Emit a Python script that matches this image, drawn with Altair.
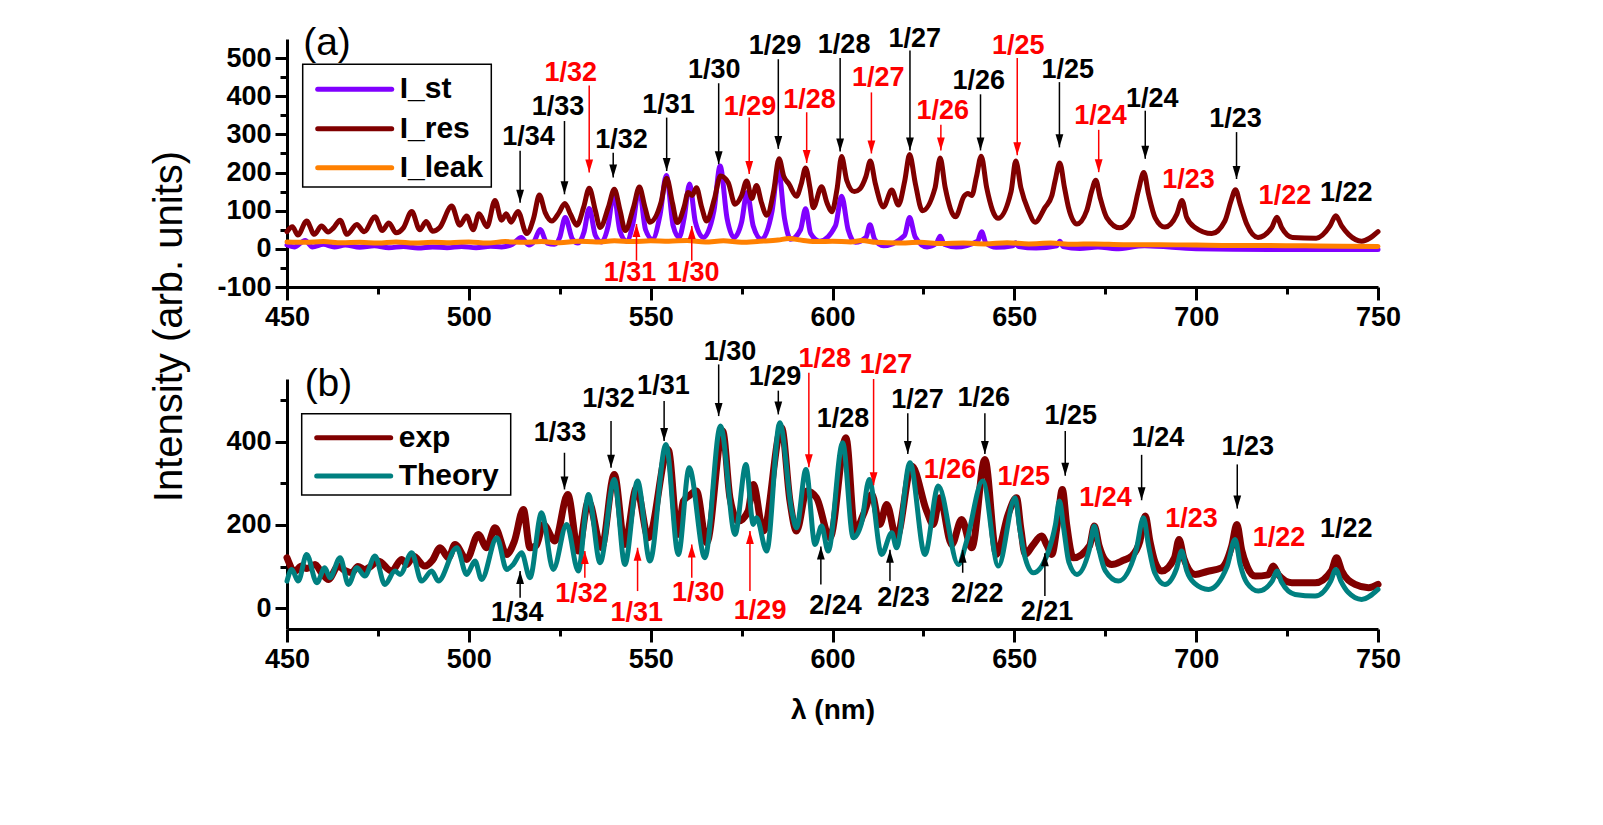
import altair as alt
import pandas as pd

FONT = "Liberation Sans"

# ---------------- panel (a) series ----------------
ist_nm = [450, 452, 455, 457, 460, 463, 466, 470, 474, 478, 482, 486, 490, 494, 498, 502, 506, 509, 512, 514.4, 516.5,
          518, 519.6, 521.5, 523.5, 525, 526.5, 528.5, 530, 531.7, 533.1, 534.8, 536.5, 538.3, 539.8, 541.6, 543.4,
          545.2, 546.8, 548.6, 550.5, 552.6, 554.3, 556.2, 557.8, 559.2, 560.7, 562.3, 564.5, 567.4, 569.1, 571,
          572.9, 575, 576.5, 578.2, 580.5, 583.4, 585.1, 586.8, 588.5, 591.2, 592.6, 594, 596.5, 600.8, 602.5, 604.3,
          606.3, 609.2, 610.3, 611.6, 614, 619.8, 621.2, 622.7, 626, 628.6, 629.6, 630.7, 634, 639.9, 641, 642.2,
          645, 649.6, 650.3, 651.2, 656, 661.7, 662.5, 663.4, 668, 673, 678, 685.8, 700, 720, 750]
ist_val = [10, 5, 22, 5, 12, 5, 10, 4, 8, 3, 6, 2, 5, 3, 6, 3, 7, 5, 12, 30, 10,
           20, 51, 15, 12, 30, 82, 25, 15, 45, 106, 35, 18, 60, 145, 45, 20,
           70, 158, 50, 25, 90, 192, 60, 30, 80, 170, 70, 30, 100, 217, 80,
           30, 70, 148, 60, 25, 100, 210, 80, 25, 50, 105, 40, 20, 60, 138, 50,
           17, 30, 63, 25, 8, 35, 82, 32, 5, 15, 33, 12, 5, 20, 45, 15,
           4, 8, 16, 6, 2, 8, 20, 6, 1, 5, 0, 8, 0, -2, -2]

ires_nm = [450, 451.5, 453, 455.4, 457.5, 459.5, 461.3, 462.8, 464.6, 466.5, 469.2, 471.2, 474.2, 476.2, 478, 480,
           482, 484.3, 486.5, 488.3, 490, 492, 495.3, 497.5, 499.4, 501.2, 502.8, 505, 507.2, 509, 510.3, 511.6,
           513.5, 515.9, 517.8, 519.4, 521, 522.8, 524.8, 526.4, 528, 529.7, 531.6, 533.1, 534.8, 536.1, 538.4,
           540, 541.6, 543, 545.3, 546.9, 548.4, 549.8, 552.8, 554.4, 556, 557.3, 559.2, 560.3, 561.4, 562.6, 564,
           565.4, 567.5, 569.2, 571.3, 573.2, 575, 576.4, 577.8, 579.1, 580.5, 581.9, 583.8, 585.3, 586.6, 588,
           590.1, 591.4, 592.6, 593.8, 594.7, 597, 598.5, 599.8, 601.3, 602.5, 603.9, 606, 607.5, 609.2, 610.4,
           611.8, 614, 616.3, 618.1, 619.9, 621.2, 622.8, 624.7, 628.2, 629.6, 631, 633.8, 636.2, 637.2, 638.3,
           639.6, 640.9, 642.4, 645.5, 649.1, 650.4, 651.8, 653.9, 655.7, 658.4, 660.3, 661.2, 662.5, 663.8, 664.9,
           667.2, 669.9, 671.3, 672.4, 673.6, 675.4, 679, 682.3, 684.1, 685.6, 686.9, 688.7, 691.4, 694.7, 696.1,
           697.4, 699.7, 704.3, 707.9, 709.6, 710.8, 712.1, 713.9, 717, 720.8, 722.2, 723.5, 726.5, 733, 736.8,
           738.4, 740, 741.9, 745.5, 750]
ires_val = [45, 58, 36, 73, 38, 60, 44, 55, 75, 38, 64, 45, 84, 48, 68, 42,
            55, 98, 50, 72, 46, 56, 112, 62, 86, 50, 92, 58, 127, 75, 92, 70,
            98, 40, 80, 141, 95, 73, 95, 119, 90, 62, 110, 159, 100, 56, 110,
            156, 100, 48, 110, 162, 110, 70, 120, 185, 120, 69, 110, 148, 140, 160, 110,
            73, 130, 191, 174, 117, 140, 178, 132, 166, 120, 88, 150, 236, 190, 170,
            138, 170, 212, 160, 108, 163, 120, 97, 160, 242, 180, 150, 157, 190, 230,
            170, 110, 154, 115, 180, 247, 170, 100, 160, 238, 160, 84, 138, 145, 140,
            190, 243, 160, 80, 150, 230, 160, 100, 70, 108, 139, 178, 225, 160, 108,
            65, 100, 152, 180, 134, 82, 55, 82, 152, 200, 143, 82, 57, 91, 127,
            82, 56, 40, 73, 126, 155, 117, 65, 30, 56, 83, 56, 30, 28, 60,
            87, 60, 38, 20, 45]

ileak_nm = [450, 455, 460, 465, 470, 475, 480, 485, 490, 495, 500, 505, 510, 515, 520, 525, 530, 535, 540, 545,
            550, 555, 560, 565, 570, 575, 580, 585, 588, 592, 596, 600, 605, 608, 612, 618, 624, 630, 636, 642,
            648, 654, 660, 666, 672, 680, 690, 700, 710, 720, 730, 740, 750]
ileak_val = [18, 17, 19, 16, 17, 15, 18, 15, 17, 16, 18, 15, 19, 17, 19, 16, 20, 18, 21, 19,
             21, 20, 22, 18, 21, 17, 20, 23, 27, 22, 19, 20, 18, 22, 17, 15, 17, 14, 15, 13,
             16, 13, 15, 12, 13, 11, 11, 10, 9, 9, 8, 7, 6]

# ---------------- panel (b) series ----------------
exp_nm = [450, 452.2, 454, 455.5, 457.7, 459.5, 461.4, 464.1, 466, 467.8, 469.5, 471.4, 473, 475.1, 478.8, 481.5,
          483, 484.7, 487.9, 490, 492.1, 494.4, 496.2, 499.4, 502.6, 504.9, 507.2, 510.4, 512.5, 515, 516.8, 518.5,
          520.5, 523.7, 527.2, 530.1, 532.9, 536.5, 540, 542.9, 546.1, 549.4, 554.8, 557.5, 559, 560.6, 562.6,
          565.4, 569.8, 571.8, 574.1, 576.8, 578.2, 581, 586, 588.3, 590.1, 592.9, 595.6, 599.3, 603.7, 606.2,
          608.5, 610.8, 613, 614.9, 617.6, 621.8, 625.9, 627.7, 629.5, 632.8, 635.5, 638.3, 641.9, 645.1, 648.3,
          650.6, 651.8, 653, 655, 657.5, 659, 660.3, 661.8, 663.2, 664.4, 666.2, 670.7, 672, 673.3, 675, 676.8,
          680, 682.3, 684.5, 686, 687.3, 688.7, 690.5, 694, 695.3, 696.6, 699.7, 703, 707, 709.8, 711.2, 712.5,
          714, 716.2, 719.8, 721.2, 722.6, 726.3, 732.7, 737.2, 738.6, 740, 743.7, 747.4, 750]
exp_val = [121, 89, 101, 95, 105, 85, 69, 101, 90, 85, 100, 93, 100, 113, 89, 117,
           105, 125, 101, 115, 145, 121, 153, 117, 177, 145, 193, 129, 160, 237, 145, 150,
           201, 161, 273, 137, 257, 145, 321, 153, 289, 169, 381, 177, 257, 270, 281,
           157, 425, 265, 209, 233, 297, 185, 433, 257, 185, 281, 265, 169, 409, 185,
           225, 273, 201, 249, 169, 341, 233, 201, 265, 153, 213, 145, 357, 129, 225,
           265, 190, 129, 150, 173, 150, 129, 200, 285, 200, 121, 150, 197, 150, 115, 105,
           115, 125, 160, 221, 160, 110, 89, 120, 165, 120, 81, 88, 97, 150, 201, 140,
           100, 77, 80, 101, 80, 61, 61, 90, 121, 90, 57, 49, 57]

theory_nm = [450, 451.3, 453.1, 455.4, 458.2, 460.4, 461.8, 464.6, 466.9, 469.2, 471.4, 474.2, 476.9, 479.7, 481.1,
             484.3, 487, 489.8, 491.6, 496.7, 499.4, 501.7, 503.5, 507.7, 510.4, 512.2, 514.5, 516.8, 520, 523.2,
             526.9, 530.1, 532.9, 536.1, 540, 542.9, 546.4, 549.8, 554.2, 557.6, 560.6, 564.9, 569.2, 573.2, 576.2,
             578.2, 579.1, 581.9, 585.5, 588.8, 590.1, 592.7, 595.2, 597, 598.8, 602.8, 605.7, 608, 610.1, 613.5,
             616.3, 617.6, 621.3, 625.4, 629.1, 634.6, 636.9, 641.3, 645.6, 650.2, 651.5, 653, 655.2, 659.4, 661.3,
             662.4, 663.6, 665, 667.2, 670.6, 672, 673.3, 675, 678.6, 683.5, 685.5, 686.9, 688.6, 691.4, 694.6, 696,
             697.4, 699.5, 703.4, 708.5, 710.7, 712.1, 714, 717.1, 720.9, 722.2, 723.5, 727.2, 732.7, 737, 738.4,
             739.8, 741.8, 745.5, 750]
theory_val = [65, 93, 65, 129, 61, 97, 73, 121, 57, 97, 77, 125, 57, 89, 81,
              133, 65, 89, 65, 145, 81, 113, 69, 169, 93, 105, 133, 73, 229, 93,
              201, 89, 273, 109, 309, 105, 305, 113, 393, 129, 337, 121, 437, 177, 345,
              201, 217, 137, 445, 233, 193, 333, 153, 197, 137, 397, 169, 205, 309, 129,
              181, 145, 349, 129, 293, 105, 161, 305, 101, 265, 190, 120, 85, 137, 200,
              257, 190, 110, 81, 140, 197, 140, 90, 65, 140, 217, 150, 85, 57, 95, 137,
              90, 60, 45, 100, 165, 105, 60, 41, 65, 89, 62, 33, 29, 65, 93,
              65, 38, 21, 45]

# ---------------- axes ticks ----------------
x_major = [450, 500, 550, 600, 650, 700, 750]
x_minor = [475, 525, 575, 625, 675, 725]
ya_major = [-100, 0, 100, 200, 300, 400, 500]
ya_minor = [-50, 50, 150, 250, 350, 450]
yb_major = [0, 200, 400]
yb_minor = [100, 300, 500]

# ---------------- annotations ----------------
# (text, color, label_nm, label_value, arrow_nm, arrow_from, arrow_tip)
a_down = [
    ("1/34", "black", 516.4, 292, 514.1, 257, 121),
    ("1/33", "black", 524.5, 372, 526.3, 335, 143),
    ("1/32", "red", 528.0, 462, 533.1, 428, 200),
    ("1/32", "black", 542.0, 284, 539.7, 252, 187),
    ("1/31", "black", 554.9, 378, 554.4, 344, 204),
    ("1/30", "black", 567.5, 468, 568.7, 434, 222),
    ("1/29", "red", 577.3, 373, 577.1, 344, 196),
    ("1/29", "black", 584.2, 531, 585.1, 497, 262),
    ("1/28", "red", 593.7, 389, 592.9, 358, 225),
    ("1/28", "black", 603.2, 533, 602.1, 500, 255),
    ("1/27", "red", 612.6, 447, 610.7, 410, 250),
    ("1/27", "black", 622.6, 551, 621.3, 520, 258),
    ("1/26", "red", 630.3, 360, 629.8, 325, 258),
    ("1/26", "black", 640.2, 439, 640.7, 405, 258),
    ("1/25", "red", 651.1, 532, 650.8, 500, 245),
    ("1/25", "black", 664.7, 469, 662.4, 437, 266),
    ("1/24", "red", 673.7, 347, 673.2, 312, 201),
    ("1/24", "black", 687.9, 394, 686.0, 362, 236),
    ("1/23", "black", 710.8, 341, 711.1, 306, 183),
]
a_up = [
    ("1/31", "red", 544.3, -62, 546.1, -31, 65),
    ("1/30", "red", 561.7, -62, 561.3, -31, 60),
]
a_plain = [
    ("1/23", "red", 697.9, 181),
    ("1/22", "red", 724.4, 138),
    ("1/22", "black", 741.3, 147),
]
b_down = [
    ("1/33", "black", 525.1, 421, 526.3, 373, 285),
    ("1/32", "black", 538.4, 501, 539.1, 449, 337),
    ("1/31", "black", 553.5, 533, 553.7, 497, 401),
    ("1/30", "black", 571.8, 615, 568.7, 585, 461),
    ("1/29", "black", 584.2, 555, 585.1, 522, 465),
    ("1/28", "red", 597.9, 598, 593.5, 565, 338),
    ("1/27", "red", 614.7, 584, 611.3, 550, 295),
    ("1/27", "black", 623.4, 500, 620.7, 468, 370),
    ("1/26", "black", 641.6, 504, 641.9, 468, 370),
    ("1/25", "black", 665.5, 461, 664.0, 425, 318),
    ("1/24", "black", 689.5, 409, 685.0, 368, 259),
    ("1/23", "black", 714.2, 386, 711.3, 345, 239),
]
b_up = [
    ("1/34", "black", 513.3, -11, 514.1, 25, 89),
    ("1/32", "red", 531.0, 33, 531.9, 73, 137),
    ("1/31", "red", 546.2, -11, 546.4, 41, 145),
    ("1/30", "red", 563.1, 37, 561.3, 73, 153),
    ("1/29", "red", 580.1, -7, 577.3, 41, 185),
    ("2/24", "black", 600.8, 5, 596.8, 57, 148),
    ("2/23", "black", 619.5, 25, 615.8, 65, 140),
    ("2/22", "black", 639.8, 33, 635.8, 85, 140),
    ("2/21", "black", 659.0, -10, 658.4, 29, 132),
]
b_plain = [
    ("1/28", "black", 602.9, 453),
    ("1/26", "red", 632.3, 332),
    ("1/25", "red", 652.6, 314),
    ("1/24", "red", 675.1, 265),
    ("1/23", "red", 698.7, 215),
    ("1/22", "red", 722.8, 168),
    ("1/22", "black", 741.3, 191),
]

legend_a_names = ["I_st", "I_res", "I_leak"]
legend_a_colors = ["#8000ff", "#800000", "#ff8000"]
legend_b_names = ["exp", "Theory"]
legend_b_colors = ["#800000", "#008080"]

COLORS = {"black": "#000000", "red": "#ff0000"}
PLOT_W = 1091


def ann_frame(rows, with_arrow=True):
    if with_arrow:
        cols = ["txt", "col", "lx", "ly", "ax", "ay1", "ay2"]
    else:
        cols = ["txt", "col", "lx", "ly"]
    df = pd.DataFrame(rows, columns=cols)
    df["col"] = df["col"].map(COLORS)
    return df


def axis_x_major(title):
    kw = dict(values=x_major, tickSize=13, tickWidth=3, tickColor="black", domainWidth=3,
              domainColor="black", labelFont=FONT, labelFontSize=27, labelFontWeight="bold",
              labelColor="black", labelPadding=4, grid=False, labelFlush=False,
              labelOverlap=False, orient="bottom")
    if title:
        kw.update(title=title, titleFont=FONT, titleFontSize=28, titleFontWeight="bold",
                  titleColor="black", titleX=PLOT_W / 2, titleY=81, titleAlign="center",
                  titleBaseline="middle")
    else:
        kw["title"] = None
    return alt.Axis(**kw)


def axis_y_major(values, title):
    kw = dict(values=values, tickSize=12, tickWidth=3, tickColor="black", domainWidth=3,
              domainColor="black", labelFont=FONT, labelFontSize=27, labelFontWeight="bold",
              labelColor="black", labelPadding=4, grid=False, labelFlush=False,
              labelOverlap=False, orient="left",
              labelExpr="replace(datum.label, '\u2212', '-')")
    if title:
        kw.update(title=title, titleFont=FONT, titleFontSize=40, titleFontWeight="normal",
                  titleColor="black", titleAngle=270, titleX=-118, titleY=287,
                  titleAlign="center", titleBaseline="middle")
    else:
        kw["title"] = None
    return alt.Axis(**kw)


def axis_minor(values, orient):
    return alt.Axis(values=values, tickSize=7, tickWidth=3, tickColor="black", domain=False,
                    labels=False, grid=False, title=None, orient=orient)


def panel(series, ydom, y_major, y_minor, height, down, up, plain, plabel, pl_pos,
          leg_names, leg_colors, leg_box, leg_rows, ytitle, xtitle):
    xs = alt.Scale(domain=[450, 750], nice=False, zero=False)
    ys = alt.Scale(domain=ydom, nice=False, zero=False)
    layers = []
    for i, (nm, val, col, sw) in enumerate(series):
        df = pd.DataFrame({"nm": nm, "v": val})
        if i == 0:
            xa, ya = axis_x_major(xtitle), axis_y_major(y_major, ytitle)
        else:
            xa, ya = None, None
        layers.append(
            alt.Chart(df).mark_line(interpolate="monotone", color=col, strokeWidth=sw,
                                    strokeJoin="round", strokeCap="round")
            .encode(x=alt.X("nm:Q", scale=xs, axis=xa), y=alt.Y("v:Q", scale=ys, axis=ya))
        )
    arrows = pd.concat([ann_frame(down), ann_frame(up)], ignore_index=True)
    layers.append(
        alt.Chart(arrows).mark_rule(strokeWidth=1.5)
        .encode(x=alt.X("ax:Q", scale=xs, axis=axis_minor(x_minor, "bottom")),
                y=alt.Y("ay1:Q", scale=ys, axis=axis_minor(y_minor, "left")),
                y2="ay2:Q", color=alt.Color("col:N", scale=None))
    )
    for rows, shape in ((down, "M-0.3,-1L0.3,-1L0,0Z"), (up, "M-0.3,1L0.3,1L0,0Z")):
        layers.append(
            alt.Chart(ann_frame(rows)).mark_point(shape=shape, filled=True, size=676, opacity=1,
                                                   strokeWidth=0)
            .encode(x=alt.X("ax:Q", scale=xs, axis=None), y=alt.Y("ay2:Q", scale=ys, axis=None),
                    color=alt.Color("col:N", scale=None))
        )
    texts = pd.concat([ann_frame(down)[["txt", "col", "lx", "ly"]],
                       ann_frame(up)[["txt", "col", "lx", "ly"]],
                       ann_frame(plain, False)], ignore_index=True)
    layers.append(
        alt.Chart(texts).mark_text(font=FONT, fontSize=27, fontWeight="bold", align="center",
                                   baseline="middle")
        .encode(x=alt.X("lx:Q", scale=xs, axis=None), y=alt.Y("ly:Q", scale=ys, axis=None),
                text="txt:N", color=alt.Color("col:N", scale=None))
    )
    layers.append(
        alt.Chart(pd.DataFrame({"t": [plabel], "x": [pl_pos[0]], "y": [pl_pos[1]]}))
        .mark_text(font=FONT, fontSize=39, fontWeight="normal", align="center",
                   baseline="middle", color="black")
        .encode(x=alt.X("x:Q", scale=xs, axis=None), y=alt.Y("y:Q", scale=ys, axis=None),
                text="t:N")
    )
    # legend (box + entries), positioned in pixels inside the plot area
    bx0, bx1, by0, by1 = leg_box
    layers.append(
        alt.Chart(pd.DataFrame({"k": [0]})).mark_rect(fill="white", stroke="black", strokeWidth=1.5)
        .encode(x=alt.value(bx0), x2=alt.value(bx1), y=alt.value(by0), y2=alt.value(by1))
    )
    for name, col, ry in zip(leg_names, leg_colors, leg_rows):
        layers.append(
            alt.Chart(pd.DataFrame({"k": [0]})).mark_rule(color=col, strokeWidth=5, strokeCap="round")
            .encode(x=alt.value(bx0 + 15), x2=alt.value(bx0 + 89), y=alt.value(ry))
        )
        layers.append(
            alt.Chart(pd.DataFrame({"k": [0]})).mark_text(text=name, font=FONT, fontSize=30,
                                                          fontWeight="bold", align="left",
                                                          baseline="middle", color="black")
            .encode(x=alt.value(bx0 + 97), y=alt.value(ry))
        )
    return (alt.layer(*layers)
            .resolve_axis(x="independent", y="independent")
            .properties(width=PLOT_W, height=height))


panel_a = panel(
    series=[(ist_nm, ist_val, "#8000ff", 5), (ires_nm, ires_val, "#800000", 5),
            (ileak_nm, ileak_val, "#ff8000", 5)],
    ydom=[-100, 550], y_major=ya_major, y_minor=ya_minor, height=248,
    down=a_down, up=a_up, plain=a_plain, plabel="(a)", pl_pos=(461, 540),
    leg_names=legend_a_names, leg_colors=legend_a_colors,
    leg_box=(15.7, 204.3, 25.3, 148), leg_rows=[50.3, 89.8, 128.7],
    ytitle="Intensity (arb. units)", xtitle=None,
)

panel_b = panel(
    series=[(exp_nm, exp_val, "#800000", 7), (theory_nm, theory_val, "#008080", 5)],
    ydom=[-50, 550], y_major=yb_major, y_minor=yb_minor, height=250,
    down=b_down, up=b_up, plain=b_plain, plabel="(b)", pl_pos=(461.4, 537),
    leg_names=legend_b_names, leg_colors=legend_b_colors,
    leg_box=(14.7, 223.7, 34.7, 116), leg_rows=[58.7, 97],
    ytitle=None, xtitle="\u03bb (nm)",
)

chart = (alt.vconcat(panel_a, panel_b, spacing=92)
         .properties(bounds="flush", background="white",
                     padding={"left": 149, "top": 23, "right": 10, "bottom": 10})
         .configure_view(stroke=None))

chart.save("out.html", embed_options={"renderer": "svg", "actions": False})
